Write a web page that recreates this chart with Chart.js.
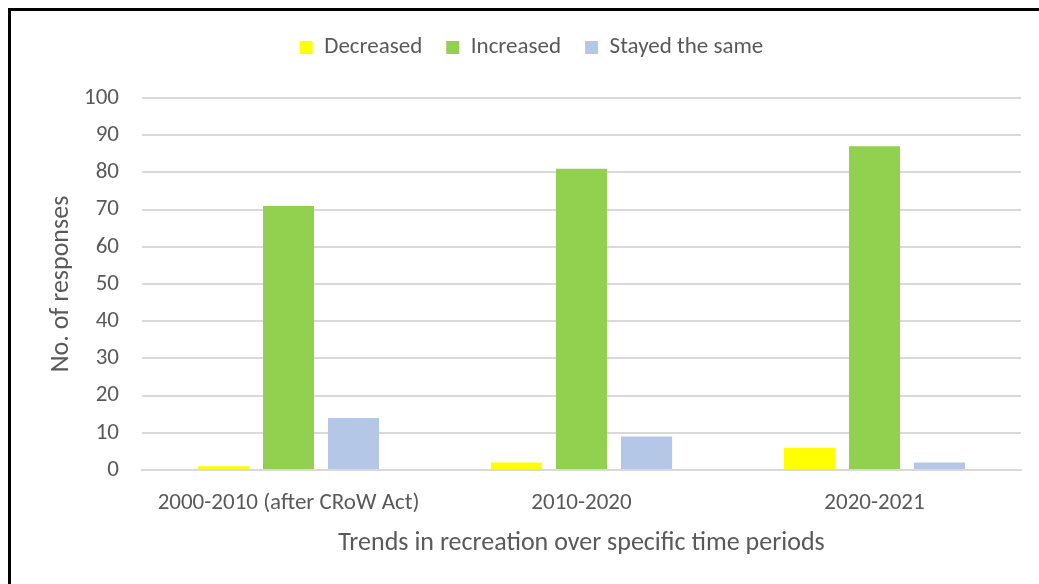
<!DOCTYPE html>
<html>
<head>
<meta charset="utf-8">
<script src="https://cdn.jsdelivr.net/npm/chart.js@4"></script>
<style>
  html, body { margin: 0; padding: 0; background: #fff; overflow: hidden; }
  #frame { position: absolute; left: 8px; top: 8px; width: 1200px; height: 800px; border: 3px solid #000; box-shadow: 1px 1px 0 #bbb; }
  #wrap { position: absolute; left: 0; top: 0; width: 1039px; height: 584px; }
</style>
</head>
<body>
<div id="frame"></div>
<div id="wrap"><canvas id="myChart" width="1039" height="584"></canvas></div>
<script>
var periods = ['2000-2010 (after CRoW Act)', '2010-2020', '2020-2021'];
var decreased = [1, 2, 6];
var increased = [71, 81, 87];
var stayedSame = [14, 9, 2];

var textColor = '#595959';
var fontFamily = 'Carlito, Lato, sans-serif';

// push the plot area down below the legend
var legendSpacer = {
  id: 'legendSpacer',
  afterInit: function(chart) {
    var fit = chart.legend.fit;
    chart.legend.fit = function() {
      fit.call(this);
      this.height += 29;
    };
  }
};

var ctx = document.getElementById('myChart').getContext('2d');
var myChart = new Chart(ctx, {
  type: 'bar',
  data: {
    labels: periods,
    datasets: [{
      label: 'Decreased',
      data: decreased,
      backgroundColor: '#FFFF00'
    }, {
      label: 'Increased',
      data: increased,
      backgroundColor: '#92D050'
    }, {
      label: 'Stayed the same',
      data: stayedSame,
      backgroundColor: '#B4C7E7'
    }]
  },
  options: {
    responsive: false,
    animation: false,
    layout: { padding: { left: 42, right: 18, top: 12, bottom: 0 } },
    datasets: {
      bar: { categoryPercentage: 0.666, barPercentage: 0.785 }
    },
    plugins: {
      legend: {
        position: 'top',
        labels: {
          boxWidth: 13,
          boxHeight: 13,
          padding: 24,
          color: textColor,
          font: { family: fontFamily, size: 23 }
        }
      },
      tooltip: { enabled: false }
    },
    scales: {
      x: {
        afterFit: function(scale) { scale.height = 114; },
        grid: { display: false, drawTicks: false },
        border: { display: true, color: '#D9D9D9', width: 2 },
        ticks: { color: textColor, padding: 19, font: { family: fontFamily, size: 23 } },
        title: {
          display: true,
          text: 'Trends in recreation over specific time periods',
          color: textColor,
          padding: { top: 0, bottom: 25 },
          font: { family: fontFamily, size: 26 }
        }
      },
      y: {
        min: 0,
        max: 100,
        afterFit: function(scale) { scale.width = 100; },
        grid: { color: '#D9D9D9', lineWidth: 2, drawTicks: false },
        border: { display: false },
        ticks: { stepSize: 10, color: textColor, padding: 23, font: { family: fontFamily, size: 23 } },
        title: {
          display: true,
          text: 'No. of responses',
          color: textColor,
          padding: { top: 4, bottom: 0 },
          font: { family: fontFamily, size: 26 }
        }
      }
    }
  },
  plugins: [legendSpacer]
});
</script>
</body>
</html>
